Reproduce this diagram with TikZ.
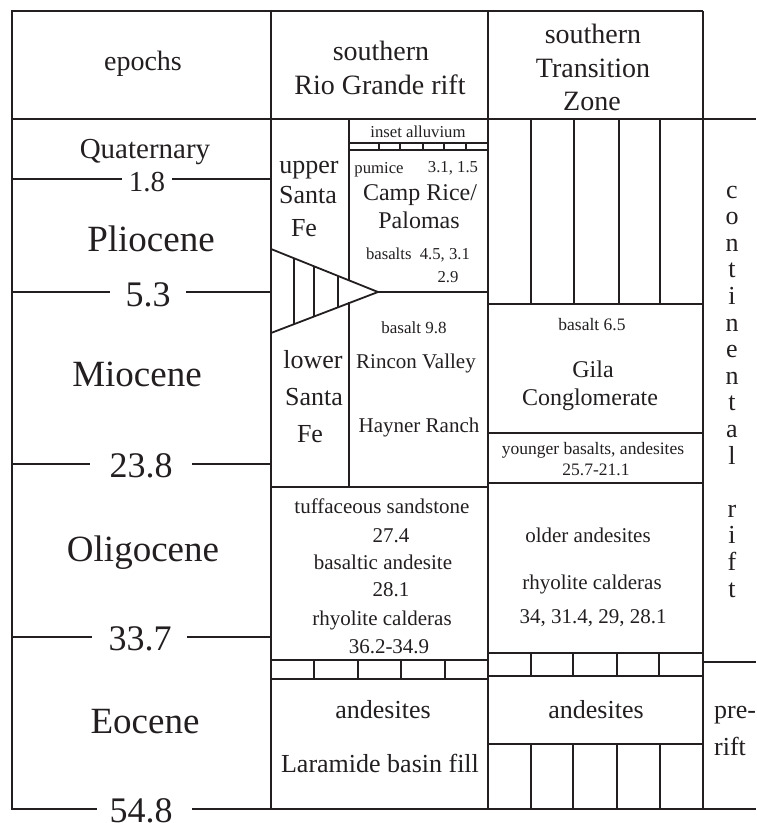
\documentclass[tikz,border=0pt]{standalone}
\usepackage{fontspec}
\setmainfont{Liberation Serif}
\usepackage{tikz}
\definecolor{Ink}{HTML}{231F20}
\newcommand{\txtsize}[1]{\fontsize{#1}{#1}\selectfont}
\tikzset{
  rule/.style={line width=1.8pt, draw=Ink},
  lbl/.style={anchor=base, inner sep=0pt, text=Ink},
}

\begin{document}
\begin{tikzpicture}[x=1pt, y=-1pt]
        \useasboundingbox (0,0) rectangle (756,823);
        % frame and columns
        \draw[rule] (703,11) -- (12,11) -- (12,809) -- (97,809);
        \draw[rule] (192,809) -- (756,809);
        \draw[rule] (12,119) -- (756,119);
        \draw[rule] (271,11) -- (271,809); \draw[rule] (488,11) -- (488,809);
        \draw[rule] (703,11) -- (703,809);
        % epoch boundaries
        \draw[rule] (12,179) -- (122,179) (172,179) -- (271,179);
        \draw[rule] (12,292) -- (110,292) (186,292) -- (271,292);
        \draw[rule] (12,464) -- (90,464) (192,464) -- (271,464);
        \draw[rule] (12,637) -- (92,637) (187,637) -- (271,637);
        % southern Rio Grande rift
        \draw[rule] (349,119) -- (349,280) (349,302) -- (349,487);
        \begin{scope}
          \clip (271,249) -- (378,292) -- (271,333) -- cycle;
          \draw[rule] (294,240) -- (294,340) (314,240) -- (314,340) (338,240) -- (338,340);
        \end{scope}
        \draw[rule, line join=miter] (271,249) -- (378,292) -- (271,333);
        \draw[rule] (378,292) -- (488,292);
        \draw[rule] (349,143) -- (488,143) (349,150) -- (488,150);
        \draw[rule] (379,143) -- (379,150) (400,143) -- (400,150) (423,143) -- (423,150)
                    (444,143) -- (444,150) (466,143) -- (466,150);
        \draw[rule] (271,487) -- (488,487);
        \draw[rule] (271,660) -- (488,660) (271,679) -- (488,679);
        \draw[rule] (314,660) -- (314,679) (358,660) -- (358,679) (401,660) -- (401,679)
                    (445,660) -- (445,679);
        % southern Transition Zone
        \draw[rule] (531,119) -- (531,304) (574,119) -- (574,304) (619,119) -- (619,304)
                    (660,119) -- (660,304);
        \draw[rule] (488,304) -- (703,304); \draw[rule] (488,433) -- (703,433);
        \draw[rule] (488,483) -- (703,483);
        \draw[rule] (488,653) -- (703,653) (488,676) -- (703,676);
        \draw[rule] (531,653) -- (531,676) (573,653) -- (573,676) (617,653) -- (617,676)
                    (659,653) -- (659,676);
        \draw[rule] (488,744) -- (703,744);
        \draw[rule] (531,744) -- (531,809) (573,744) -- (573,809) (617,744) -- (617,809)
                    (660,744) -- (660,809);
        \draw[rule] (703,662) -- (756,662);
        % headers
        \node[lbl, font=\txtsize{28}] (epochs) at (143,70) {epochs};
        \node[lbl, font=\txtsize{28}] (rgr1) at (381,60) {southern};
        \node[lbl, font=\txtsize{28}] (rgr2) at (380,94) {Rio Grande rift};
        \node[lbl, font=\txtsize{28}] (tz1) at (593,43) {southern};
        \node[lbl, font=\txtsize{28}] (tz2) at (593,77) {Transition};
        \node[lbl, font=\txtsize{28}] (tz3) at (592,110) {Zone};
        % epochs and ages
        \node[lbl, font=\txtsize{29}] (quat) at (145,158) {Quaternary};
        \node[lbl, font=\txtsize{29}] (age18) at (147,191) {1.8};
        \node[lbl, font=\txtsize{37}] (plio) at (151,251) {Pliocene};
        \node[lbl, font=\txtsize{36}] (age53) at (148,306) {5.3};
        \node[lbl, font=\txtsize{37}] (mio) at (137,386) {Miocene};
        \node[lbl, font=\txtsize{36}] (age238) at (141,477) {23.8};
        \node[lbl, font=\txtsize{37}] (oligo) at (143,561) {Oligocene};
        \node[lbl, font=\txtsize{36}] (age337) at (140,650) {33.7};
        \node[lbl, font=\txtsize{37}] (eo) at (145,733) {Eocene};
        \node[lbl, font=\txtsize{36}] (age548) at (141,822) {54.8};
        % units, Rio Grande rift
        \node[lbl, font=\txtsize{16.7}] (inset) at (418,137) {inset alluvium};
        \node[lbl, font=\txtsize{16.7}] (pum) at (379,173) {pumice};
        \node[lbl, font=\txtsize{16.7}] (pumage) at (453,172) {3.1, 1.5};
        \node[lbl, font=\txtsize{24}] (camp1) at (420,200) {Camp Rice/};
        \node[lbl, font=\txtsize{24}] (camp2) at (419,228) {Palomas};
        \node[lbl, font=\txtsize{16.7}] (basa) at (418,259) {basalts\ \ 4.5, 3.1};
        \node[lbl, font=\txtsize{16.7}] (basb) at (448,282) {2.9};
        \node[lbl, font=\txtsize{26}] (usf1) at (309,173) {upper};
        \node[lbl, font=\txtsize{26}] (usf2) at (308,203) {Santa};
        \node[lbl, font=\txtsize{26}] (usf3) at (304,236) {Fe};
        \node[lbl, font=\txtsize{17}] (basc) at (414,333) {basalt 9.8};
        \node[lbl, font=\txtsize{21}] (rincon) at (416,368) {Rincon Valley};
        \node[lbl, font=\txtsize{21}] (hayner) at (419,432) {Hayner Ranch};
        \node[lbl, font=\txtsize{26}] (lsf1) at (313,368) {lower};
        \node[lbl, font=\txtsize{26}] (lsf2) at (314,405) {Santa};
        \node[lbl, font=\txtsize{26}] (lsf3) at (310,442) {Fe};
        \node[lbl, font=\txtsize{21}] (tuff) at (382,513) {tuffaceous sandstone};
        \node[lbl, font=\txtsize{21}] (tuffage) at (391,542) {27.4};
        \node[lbl, font=\txtsize{21}] (basand) at (383,569) {basaltic andesite};
        \node[lbl, font=\txtsize{21}] (basandage) at (391,596) {28.1};
        \node[lbl, font=\txtsize{21}] (rhyo1) at (382,625) {rhyolite calderas};
        \node[lbl, font=\txtsize{21}] (rhyo1age) at (389,653) {36.2-34.9};
        \node[lbl, font=\txtsize{26}] (and1) at (383,718) {andesites};
        \node[lbl, font=\txtsize{26}] (laramide) at (380,772) {Laramide basin fill};
        % units, Transition Zone
        \node[lbl, font=\txtsize{17.5}] (basd) at (592,330) {basalt 6.5};
        \node[lbl, font=\txtsize{24}] (gila1) at (593,377) {Gila};
        \node[lbl, font=\txtsize{24}] (gila2) at (590,405) {Conglomerate};
        \node[lbl, font=\txtsize{17.5}] (young) at (593,454) {younger basalts, andesites};
        \node[lbl, font=\txtsize{17.5}] (youngage) at (596,475) {25.7-21.1};
        \node[lbl, font=\txtsize{21}] (older) at (588,542) {older andesites};
        \node[lbl, font=\txtsize{21}] (rhyo2) at (592,589) {rhyolite calderas};
        \node[lbl, font=\txtsize{21}] (rhyo2age) at (593,623) {34, 31.4, 29, 28.1};
        \node[lbl, font=\txtsize{26}] (and2) at (596,718) {andesites};
        % right column
        \node[lbl, font=\fontsize{26}{26.6}\selectfont] (contrift) at (732,198)
          {\begin{tabular}[t]{@{}c@{}}c\\o\\n\\t\\i\\n\\e\\n\\t\\a\\l\\ \\r\\i\\f\\t\end{tabular}};
        \node[lbl, anchor=base west, font=\txtsize{26}] (pre1) at (714,718) {pre-};
        \node[lbl, anchor=base west, font=\txtsize{26}] (pre2) at (714,755) {rift};
      \end{tikzpicture}
\end{document}
